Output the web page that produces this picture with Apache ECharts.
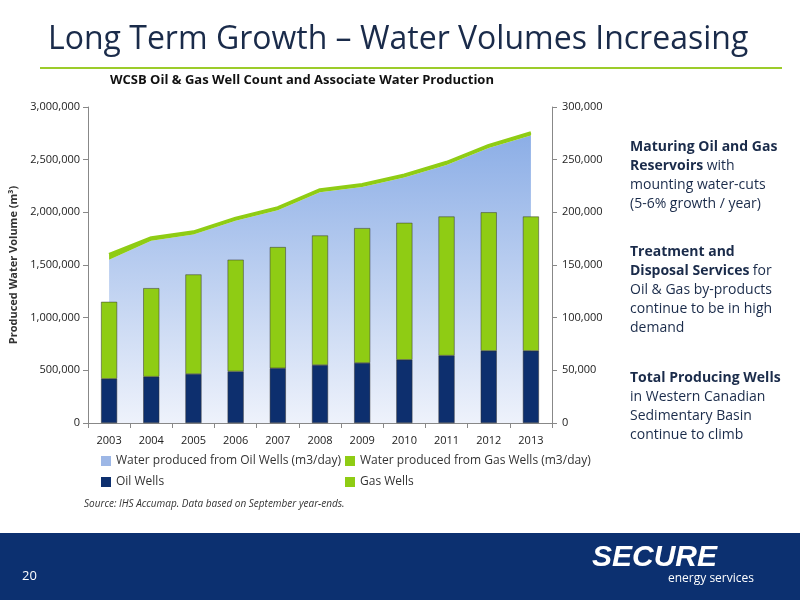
<!DOCTYPE html>
<html><head><meta charset="utf-8">
<script src="https://cdn.jsdelivr.net/npm/echarts@6/dist/echarts.min.js"></script>
<style>html,body{margin:0;padding:0;background:#fff}#c{width:800px;height:600px}</style>
</head><body><div id="c"></div>
<script>
// datos del gráfico
const years = ['2003','2004','2005','2006','2007','2008','2009','2010','2011','2012','2013'];
const waterOil = [1550000,1730000,1790000,1920000,2020000,2190000,2240000,2330000,2450000,2610000,2730000];
const waterGas = [50000,30000,25000,25000,25000,25000,25000,25000,25000,25000,25000];
const oilWells = [42000,44000,46500,49000,52000,55000,57000,60000,64000,68500,68500];
const gasWells = [73000,84000,94500,106000,115000,123000,128000,130000,132000,131500,127500];

const fmt = v => v.toLocaleString('en-US');
const chart = echarts.init(document.getElementById('c'));
const font = '"Open Sans", sans-serif';
const legText = {fontSize: 12, color: '#333', fontFamily: font};

chart.setOption({
  textStyle: {fontFamily: font},
  animation: false,
  grid: {left: 88, right: 248, top: 107, bottom: 177},
  legend: [
    {left: 96, top: 450, orient: 'vertical', itemGap: 9, itemWidth: 10, itemHeight: 10, itemStyle: {borderWidth: 0}, textStyle: legText,
     data: [{name: 'Water produced from Oil Wells (m3/day)', icon: 'rect', itemStyle: {color: '#9db7e6'}},
            {name: 'Oil Wells', icon: 'rect'}]},
    {left: 340, top: 450, orient: 'vertical', itemGap: 9, itemWidth: 10, itemHeight: 10, itemStyle: {borderWidth: 0}, textStyle: legText,
     data: [{name: 'Water produced from Gas Wells (m3/day)', icon: 'rect'},
            {name: 'Gas Wells', icon: 'rect'}]}
  ],
  xAxis: {
    type: 'category', data: years,
    axisLine: {lineStyle: {color: '#888'}}, axisTick: {show: true},
    axisLabel: {color: '#222', fontSize: 11, margin: 12}
  },
  yAxis: [
    {type: 'value', min: 0, max: 3000000, interval: 500000,
     name: 'Produced Water Volume (m³)', nameLocation: 'middle', nameGap: 68,
     nameTextStyle: {fontSize: 11, fontWeight: 'bold', color: '#333'},
     axisLine: {show: true, lineStyle: {color: '#888'}}, axisTick: {show: true},
     splitLine: {show: false},
     axisLabel: {fontSize: 11, color: '#222', formatter: fmt}},
    {type: 'value', min: 0, max: 300000, interval: 50000,
     name: 'Well Count', nameLocation: 'middle', nameGap: -45,
     nameTextStyle: {fontSize: 11, fontWeight: 'bold', color: '#333'},
     axisLine: {show: true, lineStyle: {color: '#888'}}, axisTick: {show: true},
     splitLine: {show: false},
     axisLabel: {fontSize: 11, color: '#222', margin: 10, formatter: fmt}}
  ],
  series: [
    {name: 'Water produced from Oil Wells (m3/day)', type: 'line', stack: 'w', data: waterOil,
     symbol: 'none', lineStyle: {width: 0}, z: 1,
     areaStyle: {opacity: 1, color: new echarts.graphic.LinearGradient(0,0,0,1,[
       {offset: 0, color: '#8caee6'}, {offset: 1, color: '#eef2fb'}])}},
    {name: 'Water produced from Gas Wells (m3/day)', type: 'line', stack: 'w', data: waterGas,
     symbol: 'none', lineStyle: {width: 3, color: '#8fcc14'}, z: 1,
     itemStyle: {color: '#8fcc14'}, areaStyle: {opacity: 1, color: '#8fcc14'}},
    {name: 'Oil Wells', type: 'bar', stack: 'b', yAxisIndex: 1, data: oilWells, barWidth: 16, z: 3,
     itemStyle: {color: '#0d2f6e', borderColor: '#333', borderWidth: 0.5}},
    {name: 'Gas Wells', type: 'bar', stack: 'b', yAxisIndex: 1, data: gasWells, barWidth: 16, z: 3,
     itemStyle: {color: '#8fcc14', borderColor: '#333', borderWidth: 0.5}}
  ],
  graphic: [
    {type: 'text', left: 48, top: 24, style: {text: 'Long Term Growth – Water Volumes Increasing', fontSize: 32, fill: '#1a2b4a', fontFamily: font}},
    {type: 'rect', shape: {x: 40, y: 67, width: 742, height: 2}, style: {fill: '#9ccc2a'}},
    {type: 'text', left: 110, top: 74, style: {text: 'WCSB Oil & Gas Well Count and Associate Water Production', fontSize: 13, fontWeight: 'bold', fill: '#111', fontFamily: font}},
    {type: 'text', left: 630, top: 140, style: {rich: {b: {fontWeight: 'bold', fontSize: 14, fill: '#1a2b4a', lineHeight: 19, fontFamily: font}, n: {fontSize: 14, fill: '#1a2b4a', lineHeight: 19, fontFamily: font}},
      text: '{b|Maturing Oil and Gas}\n{b|Reservoirs} {n|with}\n{n|mounting water-cuts}\n{n|(5-6% growth / year)}'}},
    {type: 'text', left: 630, top: 245, style: {rich: {b: {fontWeight: 'bold', fontSize: 14, fill: '#1a2b4a', lineHeight: 19, fontFamily: font}, n: {fontSize: 14, fill: '#1a2b4a', lineHeight: 19, fontFamily: font}},
      text: '{b|Treatment and}\n{b|Disposal Services} {n|for}\n{n|Oil & Gas by-products}\n{n|continue to be in high}\n{n|demand}'}},
    {type: 'text', left: 630, top: 371, style: {rich: {b: {fontWeight: 'bold', fontSize: 14, fill: '#1a2b4a', lineHeight: 19, fontFamily: font}, n: {fontSize: 14, fill: '#1a2b4a', lineHeight: 19, fontFamily: font}},
      text: '{b|Total Producing Wells}\n{n|in Western Canadian}\n{n|Sedimentary Basin}\n{n|continue to climb}'}},
    {type: 'text', left: 84, top: 499, style: {text: 'Source: IHS Accumap. Data based on September year-ends.', fontSize: 10, fontStyle: 'italic', fill: '#333', fontFamily: font}},
    {type: 'rect', shape: {x: 0, y: 533, width: 800, height: 67}, style: {fill: '#0c3070'}},
    {type: 'text', left: 22, top: 570, style: {text: '20', fontSize: 13, fill: '#fff', fontFamily: font}},
    {type: 'text', left: 592, top: 543, style: {text: 'SECURE', fontSize: 30, fontWeight: 'bold', fontStyle: 'italic', fill: '#fff', fontFamily: 'Liberation Sans, sans-serif'}},
    {type: 'text', left: 668, top: 573, style: {text: 'energy services', fontSize: 12, fill: '#fff', fontFamily: font}}
  ]
});
</script></body></html>
